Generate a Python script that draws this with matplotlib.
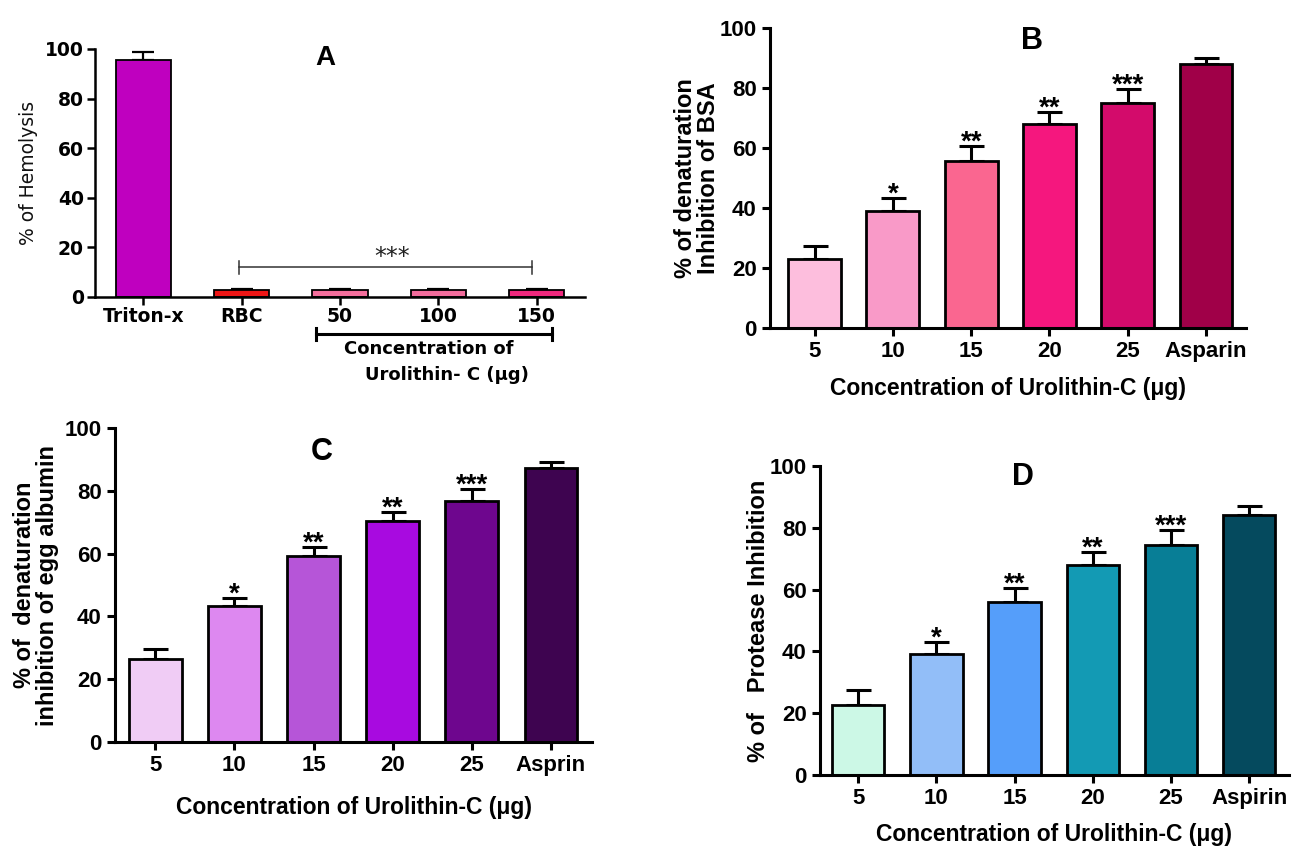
import matplotlib
matplotlib.use('Agg')
import matplotlib.pyplot as plt
from matplotlib import font_manager as fm
import numpy as np

names = {f.name for f in fm.fontManager.ttflist}
NARROW = 'Liberation Sans Narrow' if 'Liberation Sans Narrow' in names else 'Liberation Sans'

# ---------------- data ----------------
a_labels = ['Triton-x', 'RBC', '50', '100', '150']
a_values = [95.6, 2.8, 2.7, 2.7, 2.7]
a_errors = [3.3, 0.5, 0.5, 0.5, 0.5]
a_colors = ['#BF00BF', '#EE1515', '#F46E9C', '#F26C9C', '#F0287E']

b_labels = ['5', '10', '15', '20', '25', 'Asparin']
b_values = [22.9, 38.9, 55.7, 68.0, 75.0, 88.1]
b_errors = [4.6, 4.3, 4.9, 4.0, 4.7, 1.8]
b_stars = ['', '*', '**', '**', '***', '']
b_colors = ['#FDBEDD', '#F99AC8', '#FA6690', '#F5177E', '#D30B6B', '#A00048']

c_labels = ['5', '10', '15', '20', '25', 'Asprin']
c_values = [26.3, 43.2, 59.3, 70.5, 76.7, 87.4]
c_errors = [3.2, 2.6, 2.9, 2.8, 3.9, 1.7]
c_stars = ['', '*', '**', '**', '***', '']
c_colors = ['#F0CCF5', '#DD88F0', '#B655D8', '#A80AE0', '#6E068E', '#3E0450']

d_labels = ['5', '10', '15', '20', '25', 'Aspirin']
d_values = [22.6, 39.2, 56.0, 68.0, 74.3, 84.1]
d_errors = [4.8, 4.0, 4.6, 4.1, 5.1, 3.0]
d_stars = ['', '*', '**', '**', '***', '']
d_colors = ['#CCF8E6', '#92BEF8', '#559EFA', '#139AB4', '#087E96', '#054A5E']

xlabel_text = 'Concentration of Urolithin-C (\u03bcg)'
yticks = [0, 20, 40, 60, 80, 100]

W, H = 1299, 850
fig = plt.figure(figsize=(W / 100, H / 100), dpi=100)


def px_axes(left, right, top, bottom):
    return fig.add_axes([left / W, 1 - bottom / H, (right - left) / W, (bottom - top) / H])


def style_axes(ax, lw):
    for s in ['top', 'right']:
        ax.spines[s].set_visible(False)
    for s in ['left', 'bottom']:
        ax.spines[s].set_linewidth(lw)
    ax.tick_params(direction='out', length=6, width=lw)


def panel(ax, labels, values, errors, colors, stars, title, tx, ty, ylabel, xlim, width, ypad, xpad):
    x = np.arange(len(labels))
    ax.errorbar(x, values, yerr=[np.zeros(len(values)), errors], fmt='none',
                ecolor='black', elinewidth=2.2, capsize=9, capthick=2.2, zorder=1, clip_on=False)
    ax.bar(x, values, width=width, color=colors, edgecolor='black', linewidth=2.0, zorder=2)
    for xi, v, e, s in zip(x, values, errors, stars):
        if s:
            ax.text(xi, v + e - 1.2, s, ha='center', va='baseline', fontsize=20,
                    fontweight='bold', family=NARROW)
    ax.set_xlim(*xlim)
    ax.set_ylim(0, 100)
    ax.set_yticks(yticks)
    ax.set_xticks(x)
    ax.set_xticklabels(labels)
    style_axes(ax, 2.2)
    for lab in ax.get_xticklabels() + ax.get_yticklabels():
        lab.set_family(NARROW)
        lab.set_fontweight('bold')
        lab.set_fontsize(16)
    ax.set_xlabel(xlabel_text, family=NARROW, fontweight='bold', fontsize=16.5, labelpad=xpad)
    ax.set_ylabel(ylabel, family=NARROW, fontweight='bold', fontsize=17, labelpad=ypad,
                  linespacing=1.0)
    ax.text(tx, ty, title, ha='center', va='center', fontsize=22, fontweight='bold',
            family=NARROW)


# ---------------- Panel A ----------------
axA = px_axes(95, 585, 49, 297)
xa = np.arange(len(a_labels))
axA.errorbar(xa, a_values, yerr=[np.zeros(len(a_values)), a_errors], fmt='none',
             ecolor='black', elinewidth=1.6, capsize=8, capthick=1.6, zorder=1)
axA.bar(xa, a_values, width=0.56, color=a_colors, edgecolor='black', linewidth=1.3, zorder=2)
axA.set_xlim(-0.49, 4.49)
axA.set_ylim(0, 100)
axA.set_yticks(yticks)
axA.set_xticks(xa)
axA.set_xticklabels(a_labels)
style_axes(axA, 1.8)
for lab in axA.get_xticklabels() + axA.get_yticklabels():
    lab.set_family('DejaVu Sans')
    lab.set_fontweight('bold')
    lab.set_fontsize(13.5)
axA.tick_params(axis='x', pad=1)
axA.tick_params(axis='y', pad=2)
axA.set_ylabel('% of Hemolysis', family='DejaVu Sans', fontsize=13.5, color='#111111', labelpad=5)
axA.text(1.85, 96.5, 'A', ha='center', va='center', fontsize=20, fontweight='bold',
         family='Liberation Sans')
# significance bracket over the treated groups
i0, i1 = 1, len(a_labels) - 1
yb = 12.0
axA.plot([xa[i0] - 0.03, xa[i1] - 0.05], [yb, yb], color='#333333', lw=1.1)
for xe in [xa[i0] - 0.03, xa[i1] - 0.05]:
    axA.plot([xe, xe], [yb - 2.7, yb + 2.7], color='#333333', lw=1.1)
axA.text((xa[i0] + xa[i1]) / 2 + 0.03, yb - 0.6, '***', ha='center', va='bottom', fontsize=17,
         family='DejaVu Sans', color='#222222')
# group bracket below the axis
g0, g1 = 2, len(a_labels) - 1
yl = -14.9
axA.plot([xa[g0] - 0.245, xa[g1] + 0.15], [yl, yl], color='black', lw=2.2, clip_on=False)
for xe in [xa[g0] - 0.245, xa[g1] + 0.15]:
    axA.plot([xe, xe], [yl - 2.6, yl + 2.6], color='black', lw=2.2, clip_on=False)
axA.text(2.9, -20.8, 'Concentration of', ha='center', va='center', fontsize=13,
         family='DejaVu Sans', fontweight='bold', clip_on=False)
axA.text(3.09, -31.5, 'Urolithin- C (\u03bcg)', ha='center', va='center', fontsize=13,
         family='DejaVu Sans', fontweight='bold', clip_on=False)

# ---------------- Panel B ----------------
axB = px_axes(770, 1246, 28, 328)
panel(axB, b_labels, b_values, b_errors, b_colors, b_stars, 'B', 2.78, 95.7,
      '% of denaturation\nInhibition of BSA', (-0.57, 5.51), 0.675, 0, 11)

# ---------------- Panel C ----------------
axC = px_axes(115, 592, 428, 742)
panel(axC, c_labels, c_values, c_errors, c_colors, c_stars, 'C', 2.10, 92.5,
      '% of  denaturation\ninhibition of egg albumin', (-0.51, 5.52), 0.665, 4, 14)

# ---------------- Panel D ----------------
axD = px_axes(820, 1289, 466, 775)
panel(axD, d_labels, d_values, d_errors, d_colors, d_stars, 'D', 2.10, 96.3,
      '% of   Protease Inhibition', (-0.49, 5.51), 0.67, 0, 10)

fig.savefig('out.png', dpi=100, facecolor='white')
